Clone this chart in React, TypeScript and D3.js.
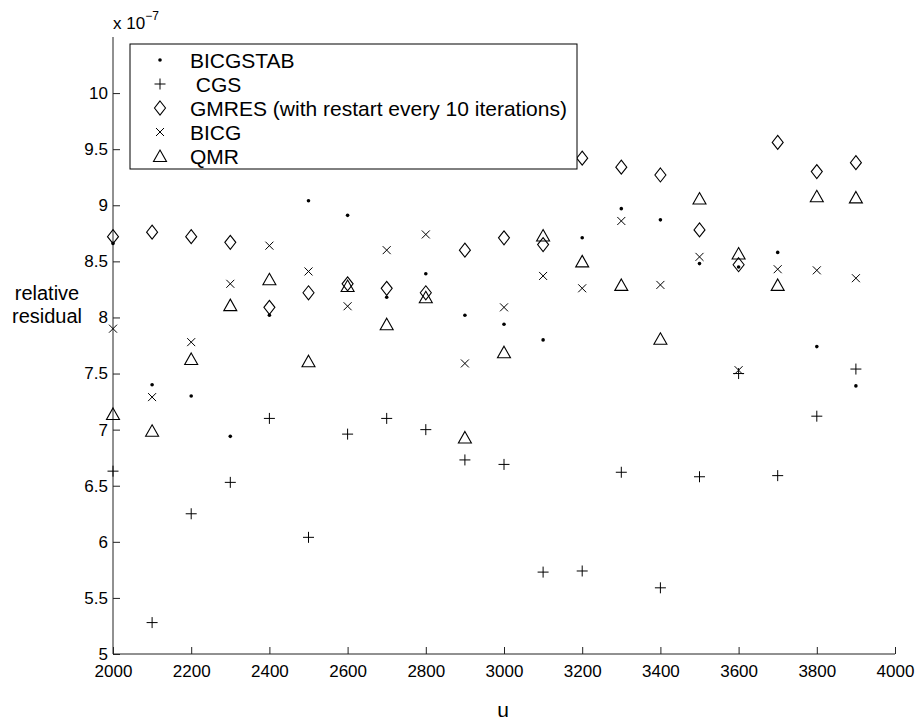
import React, { useEffect, useRef } from "react";
import * as d3 from "d3";

// u values (x axis)
const uValues = [2000, 2100, 2200, 2300, 2400, 2500, 2600, 2700, 2800, 2900,
  3000, 3100, 3200, 3300, 3400, 3500, 3600, 3700, 3800, 3900];

// relative residual, in units of 1e-7
const bicgstab = [8.66, 7.40, 7.30, 6.94, 8.02, 9.04, 8.91, 8.18, 8.39, 8.02,
  7.94, 7.80, 8.71, 8.97, 8.87, 8.48, 8.45, 8.58, 7.74, 7.39];
const cgs = [6.63, 5.28, 6.25, 6.53, 7.10, 6.04, 6.96, 7.10, 7.00, 6.73,
  6.69, 5.73, 5.74, 6.62, 5.59, 6.58, 7.50, 6.59, 7.12, 7.54];
const gmres = [8.72, 8.76, 8.72, 8.67, 8.09, 8.22, 8.30, 8.26, 8.22, 8.60,
  8.71, 8.65, 9.42, 9.34, 9.27, 8.78, 8.47, 9.56, 9.30, 9.38];
const bicg = [7.90, 7.29, 7.78, 8.30, 8.64, 8.41, 8.10, 8.60, 8.74, 7.59,
  8.09, 8.37, 8.26, 8.86, 8.29, 8.54, 7.53, 8.43, 8.42, 8.35];
const qmr = [7.14, 6.99, 7.63, 8.11, 8.34, 7.61, 8.28, 7.94, 8.18, 6.93,
  7.69, 8.73, 8.50, 8.29, 7.81, 9.06, 8.57, 8.29, 9.08, 9.07];

const seriesNames = ["BICGSTAB", " CGS", "GMRES (with restart every 10 iterations)", "BICG", "QMR"];
const seriesMarkers = ["dot", "plus", "diamond", "cross", "triangle"];
const seriesValues = [bicgstab, cgs, gmres, bicg, qmr];

const xTicks = [2000, 2200, 2400, 2600, 2800, 3000, 3200, 3400, 3600, 3800, 4000];
const yTicks = [5, 5.5, 6, 6.5, 7, 7.5, 8, 8.5, 9, 9.5, 10];

const FONT = "'Liberation Sans', Arial, Helvetica, sans-serif";

function drawMarker(g: any, type: string, cx: number, cy: number) {
  if (type === "dot") {
    g.append("circle").attr("cx", cx).attr("cy", cy).attr("r", 1.8).attr("fill", "#000");
  } else if (type === "plus") {
    g.append("path")
      .attr("d", `M${cx - 5.5},${cy}H${cx + 5.5}M${cx},${cy - 5.5}V${cy + 5.5}`)
      .attr("stroke", "#000").attr("stroke-width", 1).attr("fill", "none");
  } else if (type === "cross") {
    g.append("path")
      .attr("d", `M${cx - 4},${cy - 4}L${cx + 4},${cy + 4}M${cx - 4},${cy + 4}L${cx + 4},${cy - 4}`)
      .attr("stroke", "#000").attr("stroke-width", 1).attr("fill", "none");
  } else if (type === "diamond") {
    g.append("path")
      .attr("d", `M${cx},${cy - 7}L${cx + 5.5},${cy}L${cx},${cy + 7}L${cx - 5.5},${cy}Z`)
      .attr("stroke", "#000").attr("stroke-width", 1.1).attr("fill", "none");
  } else if (type === "triangle") {
    g.append("path")
      .attr("d", `M${cx},${cy - 6}L${cx + 6.5},${cy + 5.5}L${cx - 6.5},${cy + 5.5}Z`)
      .attr("stroke", "#000").attr("stroke-width", 1.1).attr("fill", "none");
  }
}

export default function App() {
  const ref = useRef<SVGSVGElement>(null);

  useEffect(() => {
    const svg = d3.select(ref.current);
    svg.selectAll("*").remove();

    const x = d3.scaleLinear().domain([2000, 4000]).range([113, 895]);
    const y = d3.scaleLinear().domain([5, 10.5]).range([654, 37]);

    // axes (MATLAB style: ticks inside)
    const xAxis = svg.append("g")
      .attr("transform", "translate(0,654)")
      .call(d3.axisBottom(x).tickValues(xTicks).tickSize(-7).tickPadding(11).tickFormat(d3.format("d")));
    xAxis.select(".domain").attr("d", `M${x(2000)},0H${x(4000)}`);

    const yAxis = svg.append("g")
      .attr("transform", "translate(113,0)")
      .call(d3.axisLeft(y).tickValues(yTicks).tickSize(-7).tickPadding(5).tickFormat((d: any) => String(d)));
    yAxis.select(".domain").attr("d", `M0,${y(10.5)}V${y(5)}`);

    svg.selectAll(".tick text").attr("font-family", FONT).attr("font-size", 17).attr("fill", "#000");
    svg.selectAll(".domain, .tick line").attr("stroke", "#222").attr("stroke-width", 1);

    // exponent label
    const expo = svg.append("text").attr("x", 113).attr("y", 29)
      .attr("font-family", FONT).attr("font-size", 17).attr("fill", "#000");
    expo.append("tspan").text("x 10");
    expo.append("tspan").attr("dy", -9).attr("font-size", 12).text("−7");

    // axis labels
    svg.append("text").attr("x", 47).attr("y", 300).attr("text-anchor", "middle")
      .attr("font-family", FONT).attr("font-size", 20).text("relative");
    svg.append("text").attr("x", 47).attr("y", 323).attr("text-anchor", "middle")
      .attr("font-family", FONT).attr("font-size", 20).text("residual");
    svg.append("text").attr("x", 503).attr("y", 717).attr("text-anchor", "middle")
      .attr("font-family", FONT).attr("font-size", 21).text("u");

    // data markers
    const marks = svg.append("g");
    seriesValues.forEach((vals, si) => {
      vals.forEach((v, i) => drawMarker(marks, seriesMarkers[si], x(uValues[i]), y(v)));
    });

    // legend
    const legend = svg.append("g");
    legend.append("rect").attr("x", 130).attr("y", 44).attr("width", 447).attr("height", 125)
      .attr("fill", "#fff").attr("stroke", "#000").attr("stroke-width", 1);
    seriesNames.forEach((name, i) => {
      const cy = 60 + i * 24;
      drawMarker(legend, seriesMarkers[i], 160, cy);
      legend.append("text").attr("x", 190).attr("y", cy + 7.5)
        .attr("font-family", FONT).attr("font-size", 21).attr("xml:space", "preserve")
        .style("white-space", "pre").text(name);
    });
  }, []);

  return (
    <svg ref={ref} width={918} height={723}
      style={{ position: "absolute", left: 0, top: 0, background: "#fff" }} />
  );
}
